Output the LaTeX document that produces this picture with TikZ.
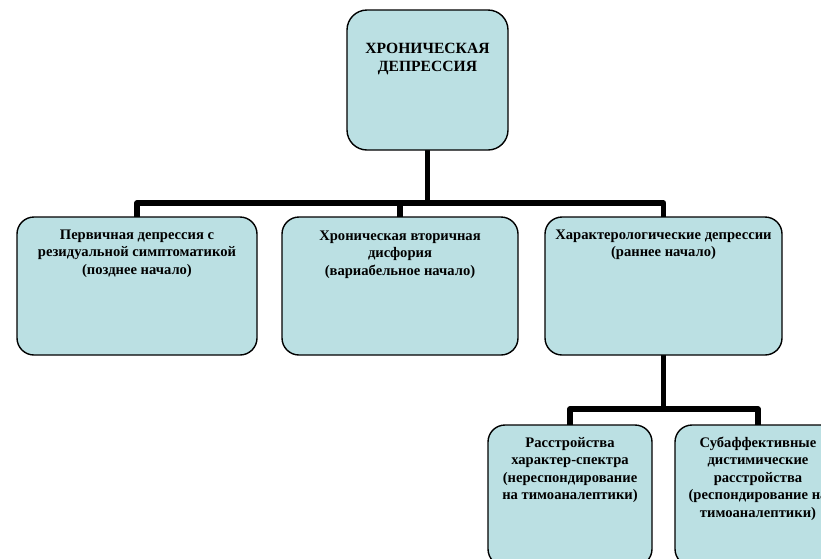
\documentclass[tikz,border=0pt]{standalone}
\usepackage{fontspec}
\setmainfont{Liberation Serif}
\pgfdeclarelayer{back}
\pgfsetlayers{back,main}
% centred lines, aligned on the baseline of the first one
\newcommand\linesC[1]{\begin{tabular}[t]{@{}c@{}}#1\end{tabular}}
\begin{document}
\begin{tikzpicture}[x=1pt,y=-1pt,
  box/.style={draw=black, line width=1.4pt, fill=boxfill, rounded corners=17pt,
    inner sep=0pt, outer sep=0pt},
  lbl/.style={anchor=base, inner sep=0pt,
    font=\fontsize{14.6}{17.6}\selectfont\bfseries},
  link/.style={line width=5.5pt, line join=round}]
\definecolor{boxfill}{RGB}{187,224,227}
\useasboundingbox (0,0) rectangle (821,558);

% hub points of the two branch bars
\coordinate (hub) at (427.5,203);
\coordinate (hub2) at (663.5,409);

% boxes
\node[box, rounded corners=20pt, minimum width=161pt, minimum height=140pt] (top) at (427.5,80) {};
\node[box, minimum width=240pt, minimum height=138pt] (b1) at (137,286) {};
\node[box, minimum width=236pt, minimum height=138pt] (b2) at (400,286) {};
\node[box, minimum width=237pt, minimum height=138pt] (b3) at (663.5,286) {};
\node[box, minimum width=164pt, minimum height=141pt] (b4) at (570,495.5) {};
\node[box, minimum width=166pt, minimum height=141pt] (b5) at (758,495.5) {};

% connectors, beneath the boxes
\begin{pgfonlayer}{back}
\draw[link] (top.south) -- (hub);
\draw[link] (b1.north) -- (b1.north |- hub) -- (b3.north |- hub) -- (b3.north);
\draw[link] (b2.north |- hub) -- (b2.north);
\draw[link] (b3.south) -- (hub2);
\draw[link] (b4.north) -- (b4.north |- hub2) -- (b5.north |- hub2) -- (b5.north);
\end{pgfonlayer}

% texts
\node[lbl, font=\fontsize{15.6}{18}\selectfont\bfseries] (ttop) at ([yshift=-43pt]top.north) {\linesC{ХРОНИЧЕСКАЯ\\ДЕПРЕССИЯ}};
\node[lbl] (t1) at ([yshift=-22pt]b1.north) {\linesC{Первичная депрессия с\\резидуальной симптоматикой\\(позднее начало)}};
\node[lbl] (t2) at ([yshift=-23pt]b2.north) {\linesC{Хроническая вторичная\\дисфория\\(вариабельное начало)}};
\node[lbl] (t3) at ([yshift=-22pt]b3.north) {\linesC{Характерологические депрессии\\(раннее начало)}};
\node[lbl] (t4) at ([yshift=-22pt]b4.north) {\linesC{Расстройства\\характер-спектра\\(нереспондирование\\на тимоаналептики)}};
\node[lbl] (t5) at ([yshift=-22pt]b5.north) {\linesC{Субаффективные\\дистимические\\расстройства\\(респондирование на\\тимоаналептики)}};
\end{tikzpicture}
\end{document}
